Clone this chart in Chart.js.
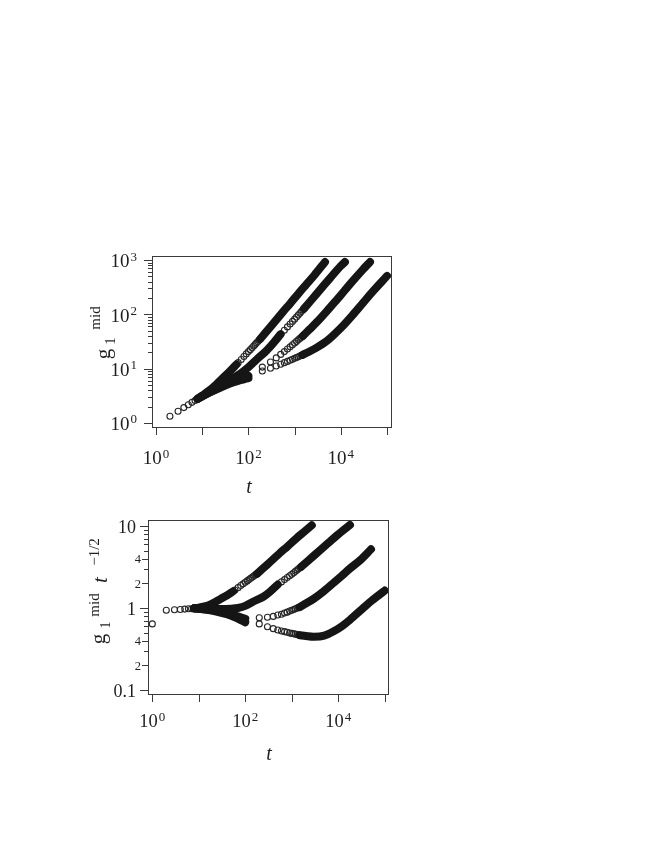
<!DOCTYPE html>
<html>
<head>
<meta charset="utf-8">
<script src="https://cdn.jsdelivr.net/npm/chart.js@4.4.1/dist/chart.umd.min.js"></script>
<style>
  html, body { margin: 0; padding: 0; background: #fff; }
  #wrap { position: relative; width: 654px; height: 846px; }
  canvas { position: absolute; left: 0; top: 0; }
</style>
</head>
<body>
<div id="wrap">
  <canvas id="topChart" width="654" height="846"></canvas>
  <canvas id="bottomChart" width="654" height="846"></canvas>
</div>
<script>
// ---- values ----
// first steps, shared by all runs (t = 1, 2, 3 ...)
const earlyT = [1, 2, 3, 4, 5, 6, 7, 8, 9, 10];
const earlyBot = [0.64, 0.94, 0.95, 0.96, 0.97, 0.98, 0.98, 0.99, 0.99, 1.0];
const earlyTopT = [2, 3, 4, 5, 6, 7, 8, 9, 10];
const earlyTop = [1.33, 1.65, 1.92, 2.17, 2.4, 2.6, 2.8, 2.97, 3.16];

// run 1
const r1aT = [8, 10, 15, 20, 30, 40, 55];
const r1aTop = [2.8, 3.19, 4.1, 5.1, 7.1, 9.0, 11.9];
const r1aBot = [0.99, 1.01, 1.06, 1.14, 1.3, 1.42, 1.6];
const r1oT = [60, 70, 80, 90, 100, 110, 120, 130, 140, 150, 160, 170, 180];
const r1oTop = [12.9, 14.8, 16.8, 18.7, 20.6, 22.4, 24.3, 26.2, 28.0, 29.9, 31.7, 33.5, 35.2];
const r1oBot = [1.66, 1.77, 1.88, 1.97, 2.06, 2.14, 2.22, 2.3, 2.37, 2.44, 2.51, 2.57, 2.62];
const r1bTopT = [180, 300, 560, 800, 1200, 1800, 2700, 4550];
const r1bTop = [35.2, 58.9, 111, 158, 239, 356, 530, 920];
const r1bBotT = [180, 300, 560, 800, 1200, 1800, 2700];
const r1bBot = [2.62, 3.4, 4.7, 5.6, 6.9, 8.4, 10.2];

// run 2
const r2aT = [8, 15, 30, 50, 70, 100, 150, 250, 350, 500];
const r2aTop = [2.8, 3.8, 5.31, 6.93, 8.37, 10.6, 14.7, 21.8, 29.9, 43.2];
const r2aBot = [0.99, 0.98, 0.97, 0.98, 1.0, 1.06, 1.2, 1.38, 1.6, 1.93];
const r2oT = [600, 700, 800, 900, 1000, 1100, 1200, 1300, 1400, 1500, 1600];
const r2oTop = [50.9, 58.7, 66.5, 74.1, 81.6, 89.2, 97, 104.6, 112.3, 120, 127.6];
const r2oBot = [2.08, 2.22, 2.35, 2.47, 2.58, 2.69, 2.8, 2.9, 3.0, 3.1, 3.19];
const r2bTopT = [1600, 3000, 6000, 10000, 12300];
const r2bTop = [127.6, 238, 476, 780, 920];
const r2bBotT = [1600, 3000, 6000, 10000, 17900];
const r2bBot = [3.19, 4.35, 6.15, 7.9, 10.3];

// run 3
const r3aT = [8, 15, 25, 40, 60, 80, 100];
const r3aTop = [2.8, 3.72, 4.6, 5.5, 6.28, 6.89, 7.4];
const r3aBot = [0.99, 0.96, 0.92, 0.87, 0.81, 0.77, 0.74];
const r3oT = [200, 300, 400, 500, 600, 700, 800, 900, 1000, 1100, 1200, 1300, 1400, 1500];
const r3oTop = [10.7, 13.3, 15.8, 18.3, 20.6, 23.0, 25.2, 27.6, 29.7, 31.8, 33.9, 36.1, 37.8, 39.9];
const r3oBot = [0.76, 0.77, 0.79, 0.82, 0.84, 0.87, 0.89, 0.92, 0.94, 0.96, 0.98, 1.0, 1.01, 1.03];
const r3bTopT = [1500, 2100, 3000, 5000, 8000, 12000, 18000, 30000, 42900];
const r3bTop = [39.9, 52.7, 71.2, 114.6, 181.6, 271.7, 407.9, 667, 920];
const r3bBotT = [1500, 2100, 3000, 5000, 8000, 12000, 18000, 30000, 50700];
const r3bBot = [1.03, 1.15, 1.3, 1.62, 2.03, 2.48, 3.04, 3.85, 5.2];

// run 4
const r4aT = [8, 15, 25, 40, 60, 80, 100];
const r4aTop = [2.8, 3.68, 4.5, 5.31, 5.96, 6.35, 6.7];
const r4aBot = [0.99, 0.95, 0.9, 0.84, 0.77, 0.71, 0.67];
const r4oT = [200, 300, 400, 500, 600, 700, 800, 900, 1000, 1100, 1200, 1300, 1400, 1500];
const r4oTop = [9.05, 10.2, 11.2, 12.1, 12.9, 13.6, 14.3, 14.85, 15.5, 16.1, 16.6, 17.1, 17.6, 18.0];
const r4oBot = [0.64, 0.59, 0.56, 0.54, 0.525, 0.515, 0.505, 0.495, 0.49, 0.485, 0.48, 0.475, 0.47, 0.465];
const r4bT = [1500, 2000, 3000, 5000, 8000, 12000, 18000, 30000, 50000, 100000];
const r4bTop = [18.0, 20.3, 24.4, 32.5, 46.5, 65.7, 96.6, 161, 268, 510];
const r4bBot = [0.465, 0.455, 0.445, 0.46, 0.52, 0.6, 0.72, 0.93, 1.2, 1.63];

// ticks and tick labels
const xTickVals = [1, 10, 100, 1000, 10000, 100000];
const xTickLabels = [[1, '10', '0'], [100, '10', '2'], [10000, '10', '4']];
const topYMajor = [1, 10, 100, 1000];
const topYLabels = [[1, '10', '0'], [10, '10', '1'], [100, '10', '2'], [1000, '10', '3']];
const botYMajor = [0.1, 1, 10];
const botYMid = [0.2, 0.4, 2, 4];
const botYMinor = [0.3, 0.5, 0.6, 0.7, 0.8, 0.9, 3, 5, 6, 7, 8, 9];
const botYLabels = [[0.1, '0.1', 'big'], [0.2, '2', 'small'], [0.4, '4', 'small'], [1, '1', 'big'],
                    [2, '2', 'small'], [4, '4', 'small'], [10, '10', 'big']];

const INK = '#151515';
const RING = '#262626';
const LINE = '#3a3a3a';
const TEXT = '#1e1e1e';

function font(size, italic) {
  return (italic ? 'italic ' : '') + size + 'px "Liberation Serif", "DejaVu Serif", serif';
}

function drawPow(ctx, base, exp, x, y, size, align) {
  const sup = Math.round(size * 0.7);
  ctx.font = font(size);
  const wb = ctx.measureText(base).width;
  ctx.font = font(sup);
  const we = exp ? ctx.measureText(exp).width + 1 : 0;
  const left = align === 'right' ? x - wb - we : x - (wb + we) / 2;
  ctx.textAlign = 'left';
  ctx.textBaseline = 'alphabetic';
  ctx.font = font(size);
  ctx.fillText(base, left, y + size * 0.34);
  if (exp) {
    ctx.font = font(sup);
    ctx.fillText(exp, left + wb + 1, y - 0.5);
  }
}

function drawRotated(ctx, p) {
  ctx.save();
  ctx.translate(p.x, p.y);
  ctx.rotate(-Math.PI / 2);
  ctx.font = font(p.size, p.italic);
  ctx.textAlign = 'center';
  ctx.textBaseline = 'alphabetic';
  ctx.fillText(p.text, 0, 0);
  ctx.restore();
}

// box, ticks and labels, placed with the chart's own scales
function frame(cfg) {
  return {
    id: 'frame',
    afterDatasetsDraw(chart) {
      const { ctx, chartArea: a } = chart;
      const xs = chart.scales.x, ys = chart.scales.y;
      ctx.save();
      ctx.lineWidth = 1;
      ctx.strokeStyle = LINE;
      ctx.strokeRect(a.left + 0.5, a.top + 0.5, a.right - a.left - 1, a.bottom - a.top - 1);
      ctx.beginPath();
      xTickVals.forEach(v => {
        const px = Math.round(xs.getPixelForValue(v)) + 0.5;
        ctx.moveTo(px, a.bottom);
        ctx.lineTo(px, a.bottom + 7);
      });
      cfg.yTicks.forEach(([v, len]) => {
        const py = Math.round(ys.getPixelForValue(v)) + 0.5;
        ctx.moveTo(a.left, py);
        ctx.lineTo(a.left - len, py);
      });
      ctx.stroke();

      ctx.fillStyle = TEXT;
      xTickLabels.forEach(([v, base, exp]) => {
        drawPow(ctx, base, exp, xs.getPixelForValue(v), cfg.xLabelY, cfg.xLabelSize, 'center');
      });
      cfg.drawYLabels(ctx, ys);
      cfg.titles.forEach(p => {
        if (p.rot) { drawRotated(ctx, p); return; }
        ctx.font = font(p.size, p.italic);
        ctx.textAlign = 'center';
        ctx.textBaseline = 'middle';
        ctx.fillText(p.text, p.x, p.y);
      });
      ctx.restore();
    }
  };
}

const pairs = (ts, vs) => ts.map((t, i) => ({ x: t, y: vs[i] }));
const band = (ts, vs) => ({
  data: pairs(ts, vs), showLine: true, pointRadius: 0, pointHoverRadius: 0,
  borderColor: INK, borderWidth: 8, borderCapStyle: 'round', borderJoinStyle: 'round',
  tension: 0.3, clip: false
});
const rings = (ts, vs) => ({
  data: pairs(ts, vs), showLine: false, pointRadius: 3, pointHoverRadius: 3,
  pointBorderWidth: 1.1, pointBorderColor: RING, pointBackgroundColor: 'rgba(0,0,0,0)', clip: false
});

function makeChart(id, cfg, datasets) {
  return new Chart(document.getElementById(id), {
    type: 'scatter',
    data: { datasets },
    options: {
      responsive: false,
      animation: false,
      events: [],
      layout: { padding: cfg.pad },
      plugins: { legend: { display: false }, tooltip: { enabled: false } },
      scales: {
        x: { type: 'logarithmic', min: cfg.xMin, max: cfg.xMax, display: false },
        y: { type: 'logarithmic', min: cfg.yMin, max: cfg.yMax, display: false }
      }
    },
    plugins: [frame(cfg)]
  });
}

// minor ticks of the upper panel: 2..9 in each decade
const topYTicks = topYMajor.map(v => [v, 8]);
[1, 10, 100].forEach(d => { for (let m = 2; m <= 9; m++) topYTicks.push([m * d, 4]); });

makeChart('topChart', {
  pad: { left: 152, right: 262, top: 256, bottom: 418 },
  xMin: 0.819, xMax: 128300, yMin: 0.809, yMax: 1186,
  yTicks: topYTicks,
  xLabelY: 458, xLabelSize: 19,
  drawYLabels(ctx, ys) {
    topYLabels.forEach(([v, base, exp]) => drawPow(ctx, base, exp, 137, ys.getPixelForValue(v) + 1, 19, 'right'));
  },
  titles: [
    { text: 't', x: 249, y: 488, size: 20, italic: true },
    { text: 'g', x: 110, y: 354, size: 21, rot: true },
    { text: '1', x: 114.5, y: 341, size: 15, rot: true },
    { text: 'mid', x: 100, y: 318, size: 15, rot: true }
  ]
}, [
  band(r1aT, r1aTop), band(r1bTopT, r1bTop),
  band(r2aT, r2aTop), band(r2bTopT, r2bTop),
  band(r3aT, r3aTop), band(r3bTopT, r3bTop),
  band(r4aT, r4aTop), band(r4bT, r4bTop),
  rings(earlyTopT, earlyTop),
  rings(r1oT, r1oTop), rings(r2oT, r2oTop), rings(r3oT, r3oTop), rings(r4oT, r4oTop)
]);

const botYTicks = botYMajor.map(v => [v, 8])
  .concat(botYMid.map(v => [v, 6]))
  .concat(botYMinor.map(v => [v, 4]));

makeChart('bottomChart', {
  pad: { left: 148, right: 265, top: 520, bottom: 151 },
  xMin: 0.808, xMax: 123700, yMin: 0.0869, yMax: 11.83,
  yTicks: botYTicks,
  xLabelY: 721, xLabelSize: 18.5,
  drawYLabels(ctx, ys) {
    botYLabels.forEach(([v, text, kind]) => {
      const big = kind === 'big';
      drawPow(ctx, text, '', big ? 136 : 141, ys.getPixelForValue(v) + (big ? 1 : 0.5), big ? 18 : 12.5, 'right');
    });
  },
  titles: [
    { text: 't', x: 269, y: 755, size: 20, italic: true },
    { text: 'g', x: 105, y: 639, size: 21, rot: true },
    { text: '1', x: 110, y: 625, size: 14, rot: true },
    { text: 'mid', x: 99, y: 605, size: 15, rot: true },
    { text: 't', x: 107, y: 580, size: 21, italic: true, rot: true },
    { text: '\u22121/2', x: 99, y: 552, size: 15, rot: true }
  ]
}, [
  band(r1aT, r1aBot), band(r1bBotT, r1bBot),
  band(r2aT, r2aBot), band(r2bBotT, r2bBot),
  band(r3aT, r3aBot), band(r3bBotT, r3bBot),
  band(r4aT, r4aBot), band(r4bT, r4bBot),
  rings(earlyT, earlyBot),
  rings(r1oT, r1oBot), rings(r2oT, r2oBot), rings(r3oT, r3oBot), rings(r4oT, r4oBot)
]);
</script>
</body>
</html>
